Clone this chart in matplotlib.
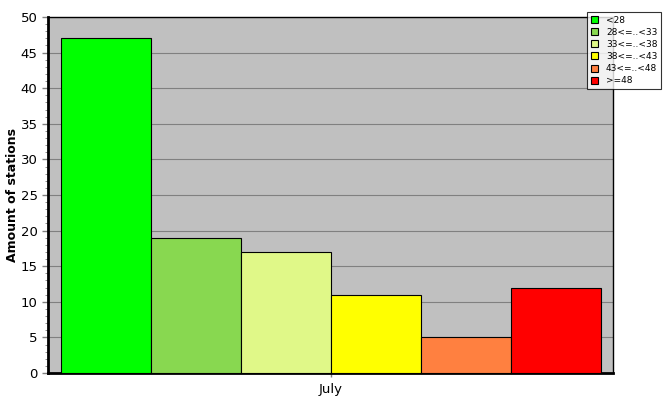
import matplotlib.pyplot as plt
from matplotlib.ticker import MultipleLocator

classes = ['<28', '28<=..<33', '33<=..<38', '38<=..<43', '43<=..<48', '>=48']
counts = [47, 19, 17, 11, 5, 12]
colors = ['#00FF00', '#88D850', '#E0F888', '#FFFF00', '#FF8040', '#FF0000']
month = 'July'

fig = plt.figure(figsize=(6.67, 4.15), dpi=100)
ax = fig.add_axes([48 / 667, 42 / 415, 565 / 667, 356 / 415])
ax.set_facecolor('#C0C0C0')

pos = list(range(len(counts)))
bars = ax.bar(pos, counts, width=1.0, color=colors, edgecolor='black', linewidth=0.8, zorder=3)

ax.set_xlim(-0.5 - 13 / 90, 5.5 + 12 / 90)
ax.set_ylim(0, 50)
ax.yaxis.set_major_locator(MultipleLocator(5))
ax.yaxis.set_minor_locator(MultipleLocator(1))
ax.grid(axis='y', which='major', color='#808080', linewidth=0.8, zorder=1)
ax.set_xticks([2.5])
ax.set_xticklabels([month])
ax.tick_params(axis='both', which='major', colors='#808080', labelcolor='black', labelsize=9.5, length=4, width=1)
ax.tick_params(axis='y', which='minor', colors='#808080', length=2)
ax.tick_params(axis='x', which='major', direction='inout', length=6, pad=4)

for side in ['left', 'bottom']:
    ax.spines[side].set_linewidth(2)
for side in ['top', 'right']:
    ax.spines[side].set_linewidth(1)

ax.set_ylabel('Amount of stations', fontsize=9, fontweight='bold')
ax.yaxis.set_label_coords((19 - 48) / 565, 0.5)

leg = fig.legend(bars, classes, loc='upper left', bbox_to_anchor=(587 / 667, 1 - 12 / 415),
                 fontsize=6.5, frameon=True, fancybox=False, edgecolor='black',
                 handlelength=0.8, handleheight=0.8, handletextpad=0.9, labelspacing=0.35,
                 borderpad=0.4, borderaxespad=0)
leg.get_frame().set_linewidth(0.8)

fig.savefig('out.png', dpi=100)
